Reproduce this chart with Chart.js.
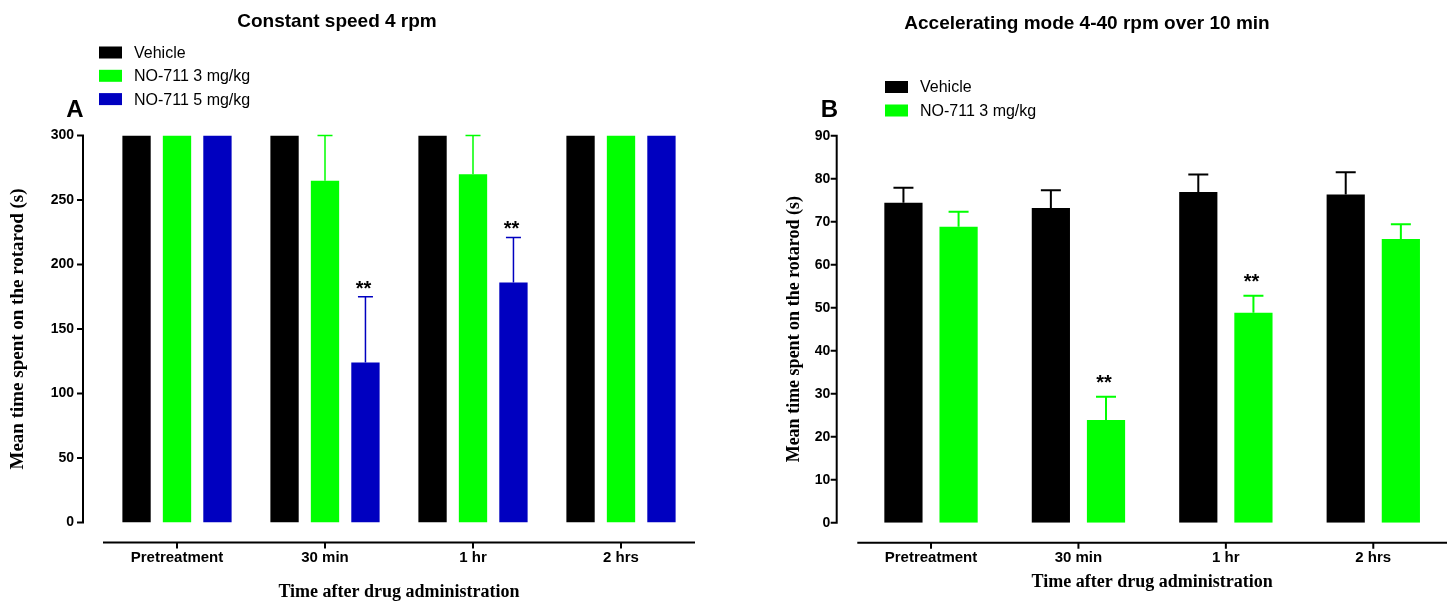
<!DOCTYPE html>
<html>
<head>
<meta charset="utf-8">
<title>Rotarod</title>
<script src="https://cdn.jsdelivr.net/npm/chart.js@4.4.1/dist/chart.umd.min.js"></script>
<style>
  body { margin: 0; background: #fff; }
  #wrap { position: relative; width: 1447px; height: 602px; overflow: hidden; }
  canvas { position: absolute; top: 0; }
  #graficoA { left: 0; }
  #graficoB { left: 720px; }
</style>
</head>
<body>
<div id="wrap">
  <canvas id="graficoA" width="720" height="602"></canvas>
  <canvas id="graficoB" width="727" height="602"></canvas>
</div>
<script>
const categorias = ['Pretreatment', '30 min', '1 hr', '2 hrs'];

// painel A - velocidade constante
const tituloA = 'Constant speed 4 rpm';
const veiculoA = [300, 300, 300, 300];
const veiculoErrA = [0, 0, 0, 0];
const no3A = [300, 265, 270, 300];
const no3ErrA = [0, 35, 30, 0];
const no5A = [300, 124, 186, 300];
const no5ErrA = [0, 51, 35, 0];
const no5SigA = ['', '**', '**', ''];
const ticksA = [0, 50, 100, 150, 200, 250, 300];

// painel B - modo acelerado
const tituloB = 'Accelerating mode 4-40 rpm over 10 min';
const veiculoB = [74.4, 73.2, 76.9, 76.3];
const veiculoErrB = [3.5, 4.1, 4.1, 5.2];
const no3B = [68.8, 23.9, 48.8, 66.0];
const no3ErrB = [3.5, 5.4, 4.0, 3.4];
const no3SigB = ['', '**', '**', ''];
const ticksB = [0, 10, 20, 30, 40, 50, 60, 70, 80, 90];

const tituloEixoX = 'Time after drug administration';
const tituloEixoY = 'Mean time spent on the rotarod (s)';

const corVeiculo = '#000000';
const corNo3 = '#00ff00';
const corNo5 = '#0000c0';

const sans = '"Liberation Sans", Arial, sans-serif';
const serif = '"Liberation Serif", "Times New Roman", serif';

// desenha eixos soltos (estilo Prism), barras de erro, asteriscos, titulo e legenda
const painelPlugin = {
  id: 'painel',
  afterDatasetsDraw(chart, args, o) {
    const ctx = chart.ctx;
    const y = chart.scales.y;
    ctx.save();
    chart.data.datasets.forEach((ds, i) => {
      chart.getDatasetMeta(i).data.forEach((bar, j) => {
        let topo = bar.y;
        if (ds.erro[j] > 0) {
          topo = y.getPixelForValue(ds.data[j] + ds.erro[j]);
          ctx.strokeStyle = ds.backgroundColor;
          ctx.lineWidth = o.errW;
          ctx.beginPath();
          ctx.moveTo(bar.x, bar.y);
          ctx.lineTo(bar.x, topo);
          ctx.moveTo(bar.x - o.capW / 2, topo);
          ctx.lineTo(bar.x + o.capW / 2, topo);
          ctx.stroke();
        }
        if (ds.sig && ds.sig[j]) {
          ctx.fillStyle = '#000';
          ctx.font = 'bold 20px ' + sans;
          ctx.textAlign = 'center';
          ctx.textBaseline = 'alphabetic';
          ctx.fillText(ds.sig[j], bar.x - 2, topo - o.starGap + 10);
        }
      });
    });
    ctx.restore();
  },
  afterDraw(chart, args, o) {
    const ctx = chart.ctx;
    const area = chart.chartArea;
    const x = chart.scales.x;
    const y = chart.scales.y;
    ctx.save();
    ctx.strokeStyle = '#000';
    ctx.lineWidth = 2;
    ctx.beginPath();
    const ex = area.left - o.gapEixo;
    ctx.moveTo(ex, y.getPixelForValue(y.max) - 1);
    ctx.lineTo(ex, y.getPixelForValue(y.min) + 1);
    y.ticks.forEach(t => {
      const py = y.getPixelForValue(t.value);
      ctx.moveTo(ex - 6, py);
      ctx.lineTo(ex, py);
    });
    const ly = area.bottom + 20;
    ctx.moveTo(area.left, ly);
    ctx.lineTo(area.right, ly);
    x.ticks.forEach((t, k) => {
      const px = x.getPixelForTick(k);
      ctx.moveTo(px, ly);
      ctx.lineTo(px, ly + 6);
    });
    ctx.stroke();

    ctx.fillStyle = '#000';
    ctx.textBaseline = 'middle';
    ctx.textAlign = 'center';
    ctx.font = 'bold 19px ' + sans;
    ctx.fillText(o.titulo, o.tituloX, o.tituloY);
    ctx.font = 'bold 24px ' + sans;
    ctx.fillText(o.letra, o.letraX, o.letraY);

    ctx.textAlign = 'left';
    ctx.font = '16px ' + sans;
    chart.data.datasets.forEach((ds, i) => {
      const cy = o.legY + i * o.legPasso;
      ctx.fillStyle = ds.backgroundColor;
      ctx.fillRect(o.legX, cy - 6, 23, 12);
      ctx.fillStyle = '#000';
      ctx.fillText(ds.label, o.legX + 35, cy + 1);
    });
    ctx.restore();
  }
};

function montarGrafico(id, datasets, marcas, cfg) {
  return new Chart(document.getElementById(id), {
    type: 'bar',
    data: { labels: categorias, datasets: datasets },
    options: {
      responsive: false,
      animation: false,
      layout: { padding: { top: cfg.topo, right: cfg.direita, left: 0, bottom: 0 } },
      plugins: {
        legend: { display: false },
        tooltip: { enabled: false },
        painel: cfg
      },
      scales: {
        x: {
          grid: { display: false, drawTicks: false },
          border: { display: false },
          ticks: { color: '#000', padding: 26, maxRotation: 0, autoSkip: false,
                   font: { family: sans, size: 15, weight: 'bold' } },
          title: { display: true, text: tituloEixoX, color: '#000',
                   font: { family: serif, size: 18, weight: 'bold' },
                   padding: { top: 0, bottom: cfg.padTituloX } },
          afterFit: s => { s.height = cfg.alturaX; }
        },
        y: {
          min: marcas[0],
          max: marcas[marcas.length - 1],
          grid: { display: false, drawTicks: false },
          border: { display: false },
          ticks: { color: '#000', stepSize: marcas[1] - marcas[0], padding: cfg.padTicksY,
                   font: { family: sans, size: 14, weight: 'bold' } },
          title: { display: true, text: tituloEixoY, color: '#000',
                   font: { family: serif, size: cfg.fonteTituloY, weight: 'bold' },
                   padding: { top: cfg.padTituloY, bottom: 0 } },
          afterFit: s => { s.width = cfg.larguraY; }
        }
      }
    },
    plugins: [painelPlugin]
  });
}

function serie(label, dados, erro, cor, sig, cat, barra) {
  return {
    label: label, data: dados, erro: erro, sig: sig,
    backgroundColor: cor, borderWidth: 0,
    categoryPercentage: cat, barPercentage: barra
  };
}

montarGrafico('graficoA', [
  serie('Vehicle', veiculoA, veiculoErrA, corVeiculo, null, 0.82, 0.70),
  serie('NO-711 3 mg/kg', no3A, no3ErrA, corNo3, null, 0.82, 0.70),
  serie('NO-711 5 mg/kg', no5A, no5ErrA, corNo5, no5SigA, 0.82, 0.70)
], ticksA, {
  topo: 135.5, direita: 25, alturaX: 79.5, larguraY: 103,
  padTicksY: 29, padTituloY: 7, fonteTituloY: 19, padTituloX: -1,
  gapEixo: 20, capW: 15, errW: 1.5, starGap: 12,
  titulo: tituloA, tituloX: 337, tituloY: 22,
  letra: 'A', letraX: 75, letraY: 110,
  legX: 99, legY: 52.5, legPasso: 23.3
});

montarGrafico('graficoB', [
  serie('Vehicle', veiculoB, veiculoErrB, corVeiculo, null, 0.748, 0.693),
  serie('NO-711 3 mg/kg', no3B, no3ErrB, corNo3, no3SigB, 0.748, 0.693)
], ticksB, {
  topo: 135.7, direita: 0, alturaX: 79.3, larguraY: 137.3,
  padTicksY: 27, padTituloY: 64, fonteTituloY: 18, padTituloX: 8.5,
  gapEixo: 20.6, capW: 20, errW: 2, starGap: 18,
  titulo: tituloB, tituloX: 367, tituloY: 24,
  letra: 'B', letraX: 109.5, letraY: 110.5,
  legX: 165, legY: 87, legPasso: 23.5
});
</script>
</body>
</html>
